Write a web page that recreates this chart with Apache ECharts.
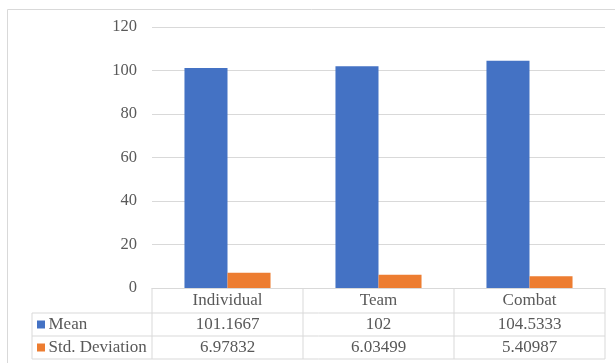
<!DOCTYPE html>
<html>
<head>
<meta charset="utf-8">
<script src="https://cdn.jsdelivr.net/npm/echarts@6/dist/echarts.min.js"></script>
<style>
  html, body { margin: 0; padding: 0; background: #fff; }
  #chart { width: 615px; height: 363px; }
</style>
</head>
<body>
<div id="chart"></div>
<script>
// data
const categories = ['Individual', 'Team', 'Combat'];
const seriesNames = ['Mean', 'Std. Deviation'];
const meanValues = [101.1667, 102, 104.5333];
const stdValues = [6.97832, 6.03499, 5.40987];
const seriesColors = ['#4472C4', '#ED7D31'];

const FONT = 'Liberation Serif';
const FONT_SIZE = 17;
const TEXT = '#595959';
const LINE = '#d9d9d9';
const ROW_H = 23.5;

const chart = echarts.init(document.getElementById('chart'), null, { renderer: 'canvas' });

// one hidden-line x axis per table row, so values sit under their category
function rowAxis(values, offset) {
    return {
        type: 'category',
        data: categories,
        position: 'bottom',
        offset: offset,
        axisLine: { show: false },
        axisTick: { show: false },
        axisLabel: {
            margin: 4,
            fontFamily: FONT,
            fontSize: FONT_SIZE,
            lineHeight: 17,
            color: TEXT,
            formatter: (v, i) => values ? String(values[i]) : v
        }
    };
}

chart.setOption({
    animation: false,
    grid: { left: 152, right: 10, top: 27, bottom: 75 },
    xAxis: [
        Object.assign(rowAxis(null, 0), {
            axisLine: { show: true, lineStyle: { color: LINE } }
        }),
        rowAxis(meanValues, ROW_H + 1),
        rowAxis(stdValues, ROW_H * 2)
    ],
    yAxis: {
        type: 'value',
        min: 0,
        max: 120,
        interval: 20,
        axisLine: { show: false },
        axisTick: { show: false },
        splitLine: { lineStyle: { color: LINE } },
        axisLabel: { margin: 15, fontFamily: FONT, fontSize: 16.5, color: TEXT }
    },
    series: [
        { name: seriesNames[0], type: 'bar', data: meanValues, barGap: '0%', barCategoryGap: '43%',
          itemStyle: { color: seriesColors[0] } },
        { name: seriesNames[1], type: 'bar', data: stdValues, barGap: '0%', barCategoryGap: '43%',
          itemStyle: { color: seriesColors[1] } }
    ]
});

// table grid, row labels and the chart frame
const c0 = chart.convertToPixel({ xAxisIndex: 0 }, categories[0]);
const c1 = chart.convertToPixel({ xAxisIndex: 0 }, categories[1]);
const band = c1 - c0;
const y0 = chart.convertToPixel({ yAxisIndex: 0 }, 0);
const tableLeft = 32;
const plotLeft = c0 - band / 2;
const plotRight = plotLeft + band * categories.length;
const rowTops = [y0 + 25, y0 + 48];
const tableBottom = y0 + 71;

const lineStyle = { stroke: LINE, lineWidth: 1 };
const graphics = [
    { type: 'rect', shape: { x: 7.5, y: 9.5, width: 640, height: 400 },
      style: { fill: null, stroke: '#d9d9d9', lineWidth: 1 }, silent: true }
];
rowTops.concat([tableBottom]).forEach(y => {
    graphics.push({ type: 'line', shape: { x1: tableLeft, y1: y, x2: plotRight, y2: y }, style: lineStyle });
});
graphics.push({ type: 'line', shape: { x1: tableLeft, y1: rowTops[0], x2: tableLeft, y2: tableBottom }, style: lineStyle });
for (let i = 0; i <= categories.length; i++) {
    const x = plotLeft + band * i;
    graphics.push({ type: 'line', shape: { x1: x, y1: y0, x2: x, y2: tableBottom }, style: lineStyle });
}
seriesNames.forEach((name, i) => {
    const yc = rowTops[i] + 11.5;
    graphics.push({ type: 'rect', shape: { x: 37, y: yc - 4, width: 8, height: 8 },
        style: { fill: seriesColors[i] } });
    graphics.push({ type: 'text', x: 48.5, y: yc,
        style: { text: name, font: FONT_SIZE + 'px "' + FONT + '"', fill: TEXT, verticalAlign: 'middle' } });
});

chart.setOption({ graphic: graphics });
</script>
</body>
</html>
